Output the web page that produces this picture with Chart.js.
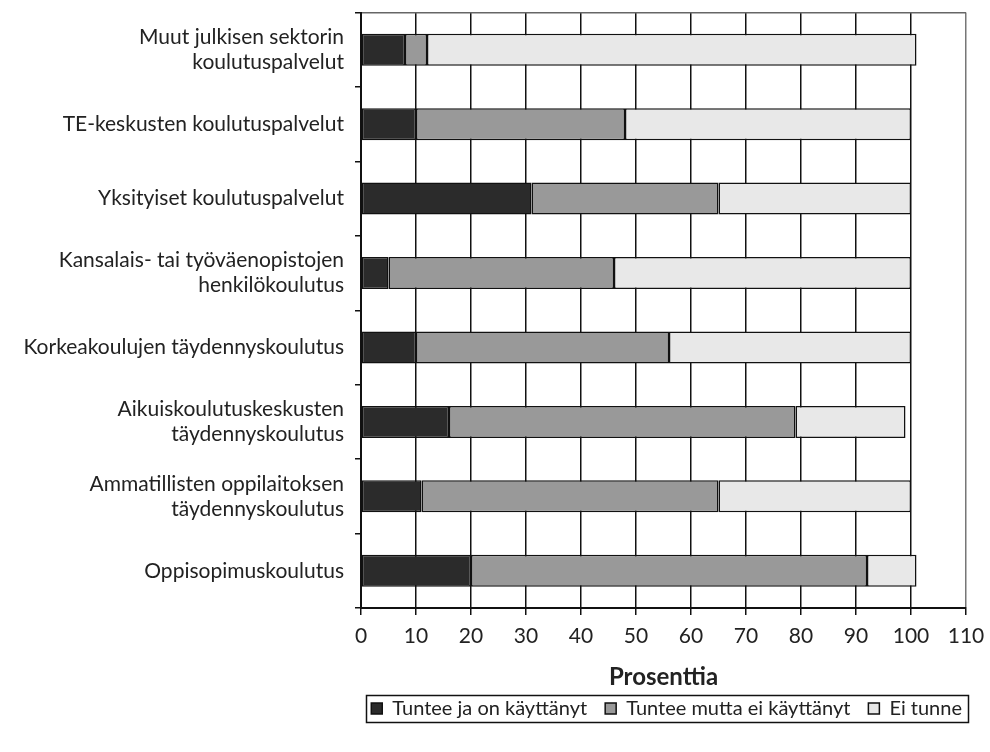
<!DOCTYPE html>
<html>
<head>
<meta charset="utf-8">
<script src="https://cdn.jsdelivr.net/npm/chart.js@4.4.0/dist/chart.umd.min.js"></script>
<style>
  html, body { margin: 0; padding: 0; background: #ffffff; }
  #wrap { width: 990px; height: 752px; position: relative; }
</style>
</head>
<body>
<div id="wrap"><canvas id="c" width="990" height="752"></canvas></div>
<script>
const categories = [
  ["Muut julkisen sektorin", "koulutuspalvelut"],
  "TE-keskusten koulutuspalvelut",
  "Yksityiset koulutuspalvelut",
  ["Kansalais- tai työväenopistojen", "henkilökoulutus"],
  "Korkeakoulujen täydennyskoulutus",
  ["Aikuiskoulutuskeskusten", "täydennyskoulutus"],
  ["Ammatillisten oppilaitoksen", "täydennyskoulutus"],
  "Oppisopimuskoulutus"
];
const seriesNames = ["Tuntee ja on käyttänyt", "Tuntee mutta ei käyttänyt", "Ei tunne"];
const tunteeKayttanyt = [8, 10, 31, 5, 10, 16, 11, 20];
const tunteeEiKayttanyt = [4, 38, 34, 41, 46, 63, 54, 72];
const eiTunne = [89, 52, 35, 54, 44, 20, 35, 9];
const xTicks = [0, 10, 20, 30, 40, 50, 60, 70, 80, 90, 100, 110];
const axisTitle = "Prosenttia";

const colors = ["#2b2b2b", "#999999", "#e8e8e8"];
const FONT = "Lato, 'Open Sans', sans-serif";
const LEGEND_SIZE = 20;

const legendBorder = {
  id: 'legendBorder',
  afterUpdate(chart) {
    const lg = chart.legend;
    lg.left += 14; lg.right += 14;
  },
  afterDraw(chart) {
    const lg = chart.legend;
    const pad = lg.options.labels.padding;
    const x0 = lg.right - lg.lineWidths[0] - 5;
    const x1 = lg.right - pad + 6;
    const cy = lg.top + pad + LEGEND_SIZE / 2;
    const ctx = chart.ctx;
    ctx.save();
    ctx.strokeStyle = '#111';
    ctx.lineWidth = 1.5;
    ctx.strokeRect(Math.round(x0) + 0.5, Math.round(cy - 13.5) + 0.5, Math.round(x1 - x0), 27);
    ctx.restore();
  }
};

new Chart(document.getElementById('c'), {
  type: 'bar',
  data: {
    labels: categories,
    datasets: [
      { label: seriesNames[0], data: tunteeKayttanyt, backgroundColor: colors[0] },
      { label: seriesNames[1], data: tunteeEiKayttanyt, backgroundColor: colors[1] },
      { label: seriesNames[2], data: eiTunne, backgroundColor: colors[2] }
    ].map(d => Object.assign(d, {
      borderColor: '#111', borderWidth: 1.5, borderSkipped: false,
      barPercentage: 0.43, categoryPercentage: 1
    }))
  },
  options: {
    indexAxis: 'y',
    responsive: false,
    animation: false,
    devicePixelRatio: 1,
    layout: { padding: { left: 0, right: 24, top: 12.5, bottom: 23.5 } },
    plugins: {
      tooltip: { enabled: false },
      legend: {
        position: 'bottom',
        align: 'end',
        labels: {
          color: '#222',
          font: { family: FONT, size: LEGEND_SIZE },
          boxWidth: 11, boxHeight: 11,
          padding: 18
        }
      }
    },
    scales: {
      x: {
        stacked: true,
        min: 0, max: 110,
        afterBuildTicks(scale) { scale.ticks = xTicks.map(v => ({ value: v })); },
        afterFit(scale) { scale.height = 72.5; scale.paddingLeft = 0; scale.paddingRight = 0; },
        grid: {
          color: ctx => ctx.index === 11 ? '#777' : '#111',
          lineWidth: 1.5,
          tickLength: 7,
          tickColor: '#111'
        },
        border: { color: '#111', width: 2 },
        ticks: {
          color: '#222',
          font: { family: FONT, size: 21 },
          padding: 9,
          maxRotation: 0
        },
        title: {
          display: true,
          text: axisTitle,
          color: '#222',
          font: { family: FONT, size: 24, weight: 'bold' },
          padding: { top: 0, bottom: -11 }
        }
      },
      y: {
        stacked: true,
        afterFit(scale) { scale.width = 361; scale.paddingTop = 0; scale.paddingBottom = 0; },
        grid: {
          offset: true,
          color: ctx => ctx.index === 0 ? '#666' : 'rgba(0,0,0,0)',
          lineWidth: 1.5,
          tickLength: 6,
          tickColor: '#111'
        },
        border: { color: '#111', width: 2 },
        ticks: {
          color: '#222',
          font: { family: FONT, size: 21, lineHeight: 1.19 },
          padding: 11
        }
      }
    }
  },
  plugins: [legendBorder]
});
</script>
</body>
</html>
